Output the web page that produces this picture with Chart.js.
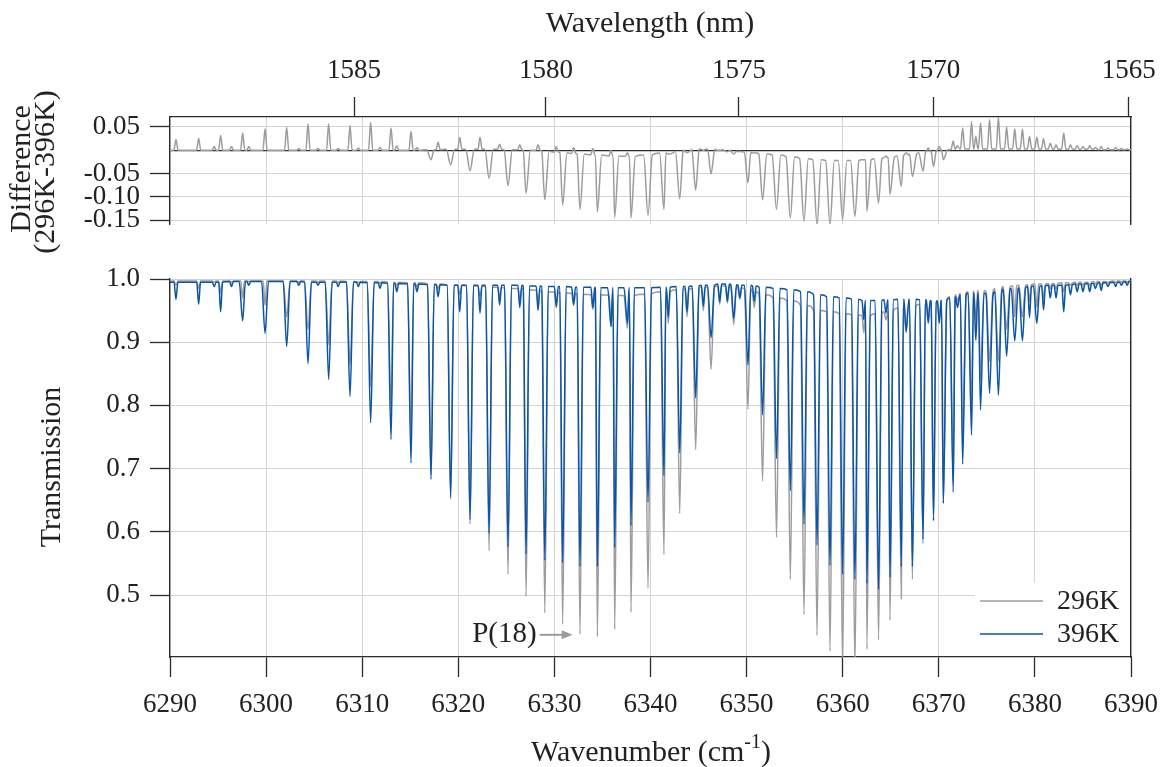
<!DOCTYPE html>
<html>
<head>
<meta charset="utf-8">
<script src="https://cdn.jsdelivr.net/npm/chart.js@4.4.1/dist/chart.umd.min.js"></script>
<style>
    html, body { margin: 0; padding: 0; background: #fff; }
    #wrap { position: relative; width: 1161px; height: 767px; overflow: hidden; }
    canvas { position: absolute; left: 0; }
    #topChart { top: 0; }
    #bottomChart { top: 255px; }
</style>
</head>
<body>
<div id="wrap">
    <canvas id="topChart" width="1161" height="255"></canvas>
    <canvas id="bottomChart" width="1161" height="512"></canvas>
</div>
<script>
// axis ranges and ticks
const wnMin = 6290;
const wnMax = 6390;
const wnTicks = [6290, 6300, 6310, 6320, 6330, 6340, 6350, 6360, 6370, 6380, 6390];
const wavelengthTicks = [1585, 1580, 1575, 1570, 1565];
const transTicks = [0.5, 0.6, 0.7, 0.8, 0.9, 1.0];
const diffTicks = [0.05, 0, -0.05, -0.10, -0.15];
const diffTickLabels = ['0.05', '', '-0.05', '-0.10', '-0.15'];
const seriesNames = ['296K', '396K'];

// absorption lines (wavenumber, cm-1)
const lineWn = [
    6290.62, 6292.98, 6294.60, 6295.27, 6296.40, 6297.56, 6298.20, 6299.89, 6302.14, 6303.40,
    6304.36, 6305.40, 6306.51, 6307.50, 6308.73, 6309.60, 6310.88, 6311.85, 6313.00, 6313.60,
    6315.08, 6315.70, 6317.16, 6317.90, 6319.20, 6320.15, 6321.22, 6322.26, 6323.20, 6324.30,
    6325.17, 6326.40, 6327.05, 6328.30, 6329.00, 6330.20, 6330.86, 6332.00, 6332.66, 6334.00,
    6334.47, 6335.90, 6336.27, 6337.60, 6337.97, 6339.74, 6341.40, 6341.85, 6343.04, 6343.80,
    6344.70, 6345.50, 6346.30, 6347.20, 6348.00, 6348.66, 6349.30, 6350.14, 6350.80, 6351.66,
    6353.11, 6354.55, 6355.97, 6357.33, 6358.68, 6359.99, 6361.27, 6362.20, 6362.52, 6363.73,
    6364.50, 6364.92, 6366.10, 6366.60, 6367.25, 6368.36, 6368.90, 6369.45, 6370.05, 6370.47,
    6371.50, 6371.95, 6372.48, 6373.41, 6373.85, 6374.34, 6375.28, 6376.20, 6377.06, 6377.90,
    6378.70, 6379.44, 6380.20, 6380.90, 6381.60, 6382.20, 6383.00, 6383.70, 6384.40, 6385.00,
    6385.70, 6386.30, 6386.90, 6387.60, 6388.40, 6389.00, 6389.60
];

// transmission at line centre, 396K
const t396Min = [
    0.968, 0.960, 0.988, 0.948, 0.988, 0.934, 0.990, 0.914, 0.893, 0.990,
    0.866, 0.990, 0.841, 0.988, 0.814, 0.988, 0.773, 0.985, 0.746, 0.980,
    0.709, 0.980, 0.683, 0.972, 0.655, 0.948, 0.619, 0.946, 0.598, 0.959,
    0.576, 0.955, 0.565, 0.950, 0.555, 0.955, 0.551, 0.960, 0.545, 0.955,
    0.545, 0.925, 0.575, 0.930, 0.610, 0.647, 0.689, 0.940, 0.725, 0.948,
    0.812, 0.957, 0.907, 0.964, 0.965, 0.938, 0.970, 0.864, 0.965, 0.785,
    0.716, 0.665, 0.612, 0.579, 0.547, 0.533, 0.525, 0.935, 0.518, 0.509,
    0.946, 0.528, 0.545, 0.917, 0.545, 0.588, 0.930, 0.618, 0.930, 0.645,
    0.663, 0.955, 0.707, 0.753, 0.903, 0.793, 0.819, 0.816, 0.878, 0.902,
    0.902, 0.939, 0.930, 0.951, 0.970, 0.970, 0.948, 0.975, 0.980, 0.980,
    0.980, 0.985, 0.982, 0.988, 0.988, 0.990, 0.990
];

// transmission at line centre, 296K
const t296Min = [
    0.990, 0.985, 0.995, 0.978, 0.995, 0.970, 0.996, 0.958, 0.940, 0.995,
    0.920, 0.995, 0.896, 0.994, 0.865, 0.994, 0.830, 0.993, 0.792, 0.990,
    0.748, 0.988, 0.690, 0.985, 0.652, 0.975, 0.612, 0.972, 0.570, 0.970,
    0.533, 0.965, 0.498, 0.960, 0.472, 0.960, 0.454, 0.958, 0.438, 0.952,
    0.434, 0.925, 0.446, 0.922, 0.473, 0.511, 0.564, 0.930, 0.629, 0.940,
    0.730, 0.950, 0.857, 0.960, 0.962, 0.928, 0.968, 0.794, 0.955, 0.680,
    0.591, 0.525, 0.469, 0.436, 0.411, 0.385, 0.385, 0.915, 0.414, 0.429,
    0.935, 0.460, 0.494, 0.915, 0.525, 0.581, 0.935, 0.617, 0.940, 0.645,
    0.680, 0.965, 0.740, 0.800, 0.935, 0.840, 0.870, 0.870, 0.920, 0.940,
    0.940, 0.965, 0.955, 0.970, 0.985, 0.985, 0.980, 0.990, 0.990, 0.990,
    0.990, 0.992, 0.990, 0.994, 0.994, 0.995, 0.995
];

// difference (296K-396K) at line centre
const diffMin = [
    0.023, 0.026, 0.008, 0.032, 0.008, 0.037, 0.008, 0.046, 0.049, 0.004,
    0.057, 0.004, 0.057, 0.004, 0.053, 0.005, 0.060, 0.006, 0.048, 0.010,
    0.041, 0.006, -0.020, 0.017, -0.031, 0.028, -0.044, 0.028, -0.060, 0.013,
    -0.076, 0.012, -0.092, 0.012, -0.106, 0.008, -0.117, 0.006, -0.127, 0.004,
    -0.132, 0.000, -0.144, -0.005, -0.145, -0.140, -0.127, -0.008, -0.104, -0.005,
    -0.085, 0.000, -0.051, 0.000, -0.003, -0.008, -0.002, -0.070, -0.005, -0.106,
    -0.127, -0.145, -0.152, -0.160, -0.160, -0.149, -0.142, -0.020, -0.131, -0.113,
    -0.012, -0.094, -0.077, -0.005, -0.056, -0.045, 0.005, -0.035, 0.008, -0.020,
    0.020, 0.010, 0.048, 0.062, 0.030, 0.059, 0.066, 0.071, 0.050, 0.046,
    0.045, 0.030, 0.028, 0.025, 0.015, 0.012, 0.037, 0.012, 0.010, 0.008,
    0.010, 0.006, 0.008, 0.005, 0.006, 0.004, 0.003
];

// level of the curves between the lines, next to each line
const t396Top = [
    0.995, 0.995, 0.995, 0.995, 0.996, 0.996, 0.996, 0.996, 0.996, 0.996,
    0.995, 0.995, 0.995, 0.995, 0.995, 0.995, 0.994, 0.994, 0.993, 0.993,
    0.992, 0.992, 0.991, 0.991, 0.990, 0.990, 0.990, 0.990, 0.990, 0.990,
    0.990, 0.990, 0.989, 0.989, 0.988, 0.988, 0.988, 0.987, 0.987, 0.987,
    0.986, 0.986, 0.986, 0.986, 0.986, 0.986, 0.987, 0.987, 0.988, 0.988,
    0.989, 0.990, 0.990, 0.992, 0.992, 0.991, 0.990, 0.990, 0.989, 0.987,
    0.985, 0.983, 0.980, 0.975, 0.972, 0.970, 0.968, 0.966, 0.966, 0.966,
    0.967, 0.967, 0.968, 0.968, 0.968, 0.967, 0.966, 0.965, 0.965, 0.966,
    0.970, 0.972, 0.975, 0.978, 0.978, 0.978, 0.975, 0.980, 0.984, 0.985,
    0.986, 0.988, 0.989, 0.989, 0.990, 0.990, 0.990, 0.991, 0.992, 0.992,
    0.993, 0.993, 0.994, 0.994, 0.995, 0.995, 0.996
];

const t296Top = [
    0.997, 0.997, 0.997, 0.997, 0.997, 0.997, 0.997, 0.997, 0.997, 0.997,
    0.997, 0.997, 0.997, 0.997, 0.996, 0.996, 0.996, 0.996, 0.995, 0.995,
    0.994, 0.994, 0.992, 0.992, 0.990, 0.990, 0.989, 0.989, 0.987, 0.987,
    0.985, 0.985, 0.983, 0.982, 0.980, 0.979, 0.978, 0.977, 0.976, 0.975,
    0.975, 0.974, 0.974, 0.974, 0.974, 0.976, 0.980, 0.980, 0.983, 0.984,
    0.985, 0.987, 0.987, 0.989, 0.989, 0.988, 0.986, 0.984, 0.980, 0.975,
    0.970, 0.965, 0.958, 0.950, 0.948, 0.945, 0.943, 0.942, 0.942, 0.945,
    0.948, 0.950, 0.954, 0.955, 0.957, 0.960, 0.962, 0.962, 0.965, 0.967,
    0.972, 0.975, 0.978, 0.980, 0.981, 0.982, 0.980, 0.985, 0.988, 0.989,
    0.990, 0.991, 0.992, 0.992, 0.993, 0.993, 0.994, 0.994, 0.995, 0.995,
    0.995, 0.996, 0.996, 0.996, 0.997, 0.997, 0.997
];

const diffTop = [
    0.000, 0.000, 0.000, 0.000, 0.000, 0.000, 0.000, 0.000, 0.000, 0.000,
    0.000, 0.000, 0.000, 0.000, 0.000, 0.000, 0.000, 0.000, 0.000, 0.000,
    0.000, 0.000, 0.001, 0.001, 0.002, 0.002, 0.002, 0.002, 0.002, 0.002,
    0.001, 0.001, 0.000, 0.000, -0.002, -0.004, -0.005, -0.007, -0.008, -0.010,
    -0.010, -0.012, -0.012, -0.013, -0.013, -0.010, -0.006, -0.006, -0.002, 0.000,
    0.002, 0.003, 0.003, 0.001, 0.000, -0.002, -0.003, -0.004, -0.006, -0.008,
    -0.010, -0.014, -0.018, -0.020, -0.022, -0.022, -0.022, -0.020, -0.020, -0.018,
    -0.016, -0.015, -0.012, -0.010, -0.008, -0.005, -0.003, -0.002, 0.000, 0.001,
    0.002, 0.003, 0.003, 0.003, 0.003, 0.003, 0.003, 0.003, 0.003, 0.003,
    0.003, 0.003, 0.003, 0.003, 0.003, 0.002, 0.002, 0.002, 0.002, 0.002,
    0.002, 0.002, 0.001, 0.001, 0.001, 0.001, 0.001
];

// annotation
const annotText = 'P(18)';
const annotTipWn = 6331.9;
const annotTipT = 0.437;

// colours
const grayColor = '#9c9ca0';
const blueColor = '#0b55a8';
const gridColor = '#d3d3d3';
const axisColor = '#2b2b2b';
const textColor = '#222';
const fontFamily = "'Liberation Serif', 'Times New Roman', serif";
const titleSize = 30;

Chart.defaults.font.family = fontFamily;
Chart.defaults.color = textColor;

// each line: shoulder, centre, shoulder
function buildPoints(mins, tops, halfWidth) {
    const pts = [{ x: wnMin, y: tops[0] }];
    for (let i = 0; i < lineWn.length; i++) {
        const c = lineWn[i];
        const gapL = i > 0 ? c - lineWn[i - 1] : 1;
        const gapR = i < lineWn.length - 1 ? lineWn[i + 1] - c : 1;
        const hw = halfWidth(i);
        const wl = Math.min(hw, gapL / 2.2);
        const wr = Math.min(hw, gapR / 2.2);
        pts.push({ x: c - wl, y: tops[i] });
        pts.push({ x: c, y: mins[i] });
        pts.push({ x: c + wr, y: tops[i] });
    }
    pts.push({ x: wnMax, y: tops[tops.length - 1] });
    return pts;
}

function transWidth(mins, tops) {
    return i => (tops[i] - mins[i] > 0.05 ? 0.36 : 0.2);
}

const lineStyle = {
    borderWidth: 1.5,
    pointRadius: 0,
    fill: false,
    cubicInterpolationMode: 'monotone',
    clip: 0
};

const tickFont = { size: 27, family: fontFamily };

function fixedWidth(w) {
    return function(s) { s.width = w; s.paddingTop = 0; s.paddingBottom = 0; };
}
function fixedHeight(h) {
    return function(s) { s.height = h; s.paddingLeft = 0; s.paddingRight = 0; };
}

function drawRotated(ctx, text, x, y, size) {
    ctx.save();
    ctx.translate(x, y);
    ctx.rotate(-Math.PI / 2);
    ctx.font = size + 'px ' + fontFamily;
    ctx.fillStyle = textColor;
    ctx.textAlign = 'center';
    ctx.textBaseline = 'middle';
    ctx.fillText(text, 0, 0);
    ctx.restore();
}

// top panel: difference
const topTitles = {
    id: 'topTitles',
    afterDraw(chart) {
        const ctx = chart.ctx;
        ctx.save();
        ctx.font = titleSize + 'px ' + fontFamily;
        ctx.fillStyle = textColor;
        ctx.textAlign = 'center';
        ctx.textBaseline = 'middle';
        ctx.fillText('Wavelength (nm)', 650, 24);
        ctx.restore();
        drawRotated(ctx, 'Difference', 22, 169, titleSize);
        drawRotated(ctx, '(296K-396K)', 46, 172, titleSize);
    }
};

new Chart(document.getElementById('topChart'), {
    type: 'line',
    data: {
        datasets: [{
            label: 'Difference',
            data: buildPoints(diffMin, diffTop, i => diffMin[i] < diffTop[i] ? 0.45 : 0.22),
            borderColor: grayColor,
            ...lineStyle
        }]
    },
    options: {
        responsive: false,
        animation: false,
        devicePixelRatio: 1,
        layout: { padding: 0 },
        plugins: { legend: { display: false }, tooltip: { enabled: false } },
        scales: {
            x: {
                type: 'linear', position: 'bottom', min: wnMin, max: wnMax,
                afterBuildTicks: s => { s.ticks = wnTicks.map(v => ({ value: v })); },
                ticks: { display: false },
                grid: { color: gridColor, lineWidth: 1, drawTicks: false },
                border: { display: false },
                afterFit: fixedHeight(31)
            },
            xTop: {
                type: 'linear', position: 'top', min: wnMin, max: wnMax,
                afterBuildTicks: s => { s.ticks = wavelengthTicks.map(l => ({ value: 1e7 / l })); },
                ticks: {
                    font: tickFont, color: textColor, padding: 10, maxRotation: 0, autoSkip: false,
                    callback: (v, i) => String(wavelengthTicks[i])
                },
                grid: { drawOnChartArea: false, tickLength: 20, tickColor: axisColor, tickWidth: 1.3 },
                border: { color: axisColor, width: 1.3 },
                afterFit: fixedHeight(117)
            },
            y: {
                position: 'left', min: -0.158, max: 0.0714,
                afterBuildTicks: s => { s.ticks = diffTicks.map(v => ({ value: v })); },
                ticks: {
                    font: tickFont, color: textColor, padding: 10, autoSkip: false,
                    callback: (v, i) => diffTickLabels[i]
                },
                grid: {
                    color: c => (c.tick && c.tick.value === 0) ? axisColor : gridColor,
                    lineWidth: c => (c.tick && c.tick.value === 0) ? 1.3 : 1,
                    tickColor: c => (c.tick && c.tick.value === 0) ? 'rgba(0,0,0,0)' : axisColor,
                    tickLength: 20,
                    tickWidth: 1.3
                },
                border: { color: axisColor, width: 1.3 },
                afterFit: fixedWidth(170)
            },
            yRight: {
                position: 'right', min: -0.158, max: 0.0714,
                ticks: { display: false },
                grid: { display: false, drawTicks: false },
                border: { color: axisColor, width: 1.3 },
                afterFit: fixedWidth(30)
            }
        }
    },
    plugins: [topTitles]
});

// bottom panel: transmission
const bottomExtras = {
    id: 'bottomExtras',
    afterDraw(chart) {
        const ctx = chart.ctx;
        const xs = chart.scales.x;
        const ys = chart.scales.y;

        drawRotated(ctx, 'Transmission', 52, 212, titleSize);

        // x axis title with superscript
        ctx.save();
        ctx.fillStyle = textColor;
        ctx.textBaseline = 'alphabetic';
        ctx.font = titleSize + 'px ' + fontFamily;
        const mainText = 'Wavenumber (cm';
        const supText = '-1';
        const closeText = ')';
        const wMain = ctx.measureText(mainText).width;
        const wClose = ctx.measureText(closeText).width;
        ctx.font = '20px ' + fontFamily;
        const wSup = ctx.measureText(supText).width;
        const total = wMain + wSup + wClose;
        const x0 = 651 - total / 2;
        const base = 506;
        ctx.font = titleSize + 'px ' + fontFamily;
        ctx.fillText(mainText, x0, base);
        ctx.font = '20px ' + fontFamily;
        ctx.fillText(supText, x0 + wMain, base - 13);
        ctx.font = titleSize + 'px ' + fontFamily;
        ctx.fillText(closeText, x0 + wMain + wSup, base);
        ctx.restore();

        // legend
        const lx = 975, ly = 583 - 255;
        ctx.save();
        ctx.fillStyle = '#fff';
        ctx.fillRect(lx, ly, chart.chartArea.right - lx - 1, chart.chartArea.bottom - ly - 1);
        const ds = chart.data.datasets;
        const rows = [601 - 255, 634 - 255];
        for (let i = 0; i < ds.length; i++) {
            ctx.strokeStyle = ds[i].borderColor;
            ctx.lineWidth = 1.5;
            ctx.beginPath();
            ctx.moveTo(980, rows[i]);
            ctx.lineTo(1043, rows[i]);
            ctx.stroke();
            ctx.fillStyle = textColor;
            ctx.font = '28px ' + fontFamily;
            ctx.textAlign = 'left';
            ctx.textBaseline = 'middle';
            ctx.fillText(ds[i].label, 1057, rows[i] + 1);
        }
        ctx.restore();

        // P(18) annotation
        const tipX = xs.getPixelForValue(annotTipWn);
        const tipY = ys.getPixelForValue(annotTipT);
        const tailX = tipX - 33;
        ctx.save();
        ctx.strokeStyle = grayColor;
        ctx.fillStyle = grayColor;
        ctx.lineWidth = 2;
        ctx.beginPath();
        ctx.moveTo(tailX, tipY);
        ctx.lineTo(tipX - 9, tipY);
        ctx.stroke();
        ctx.beginPath();
        ctx.moveTo(tipX, tipY);
        ctx.lineTo(tipX - 11, tipY - 4.5);
        ctx.lineTo(tipX - 11, tipY + 4.5);
        ctx.closePath();
        ctx.fill();
        ctx.fillStyle = textColor;
        ctx.font = '29px ' + fontFamily;
        ctx.textAlign = 'right';
        ctx.textBaseline = 'middle';
        ctx.fillText(annotText, tailX - 3, tipY);
        ctx.restore();
    }
};

new Chart(document.getElementById('bottomChart'), {
    type: 'line',
    data: {
        datasets: [{
            label: seriesNames[0],
            data: buildPoints(t296Min, t296Top, transWidth(t296Min, t296Top)),
            borderColor: grayColor,
            order: 2,
            ...lineStyle
        }, {
            label: seriesNames[1],
            data: buildPoints(t396Min, t396Top, transWidth(t396Min, t396Top)),
            borderColor: blueColor,
            order: 1,
            ...lineStyle
        }]
    },
    options: {
        responsive: false,
        animation: false,
        devicePixelRatio: 1,
        layout: { padding: { top: 24, left: 0, right: 0, bottom: 0 } },
        plugins: { legend: { display: false }, tooltip: { enabled: false } },
        scales: {
            x: {
                type: 'linear', position: 'bottom', min: wnMin, max: wnMax,
                afterBuildTicks: s => { s.ticks = wnTicks.map(v => ({ value: v })); },
                ticks: { font: tickFont, color: textColor, padding: 12, maxRotation: 0, autoSkip: false,
                    callback: v => String(v) },
                grid: { color: gridColor, lineWidth: 1, tickLength: 20, tickColor: axisColor, tickWidth: 1.3 },
                border: { color: axisColor, width: 1.3 },
                afterFit: fixedHeight(110)
            },
            y: {
                position: 'left', min: 0.4019, max: 1.0,
                afterBuildTicks: s => { s.ticks = transTicks.map(v => ({ value: v })); },
                ticks: { font: tickFont, color: textColor, padding: 10, autoSkip: false,
                    callback: v => v.toFixed(1) },
                grid: { color: gridColor, lineWidth: 1, tickLength: 20, tickColor: axisColor, tickWidth: 1.3 },
                border: { color: axisColor, width: 1.3 },
                afterFit: fixedWidth(170)
            },
            yRight: {
                position: 'right', min: 0.4019, max: 1.0,
                ticks: { display: false },
                grid: { display: false, drawTicks: false },
                border: { color: axisColor, width: 1.3 },
                afterFit: fixedWidth(30)
            }
        }
    },
    plugins: [bottomExtras]
});
</script>
</body>
</html>
